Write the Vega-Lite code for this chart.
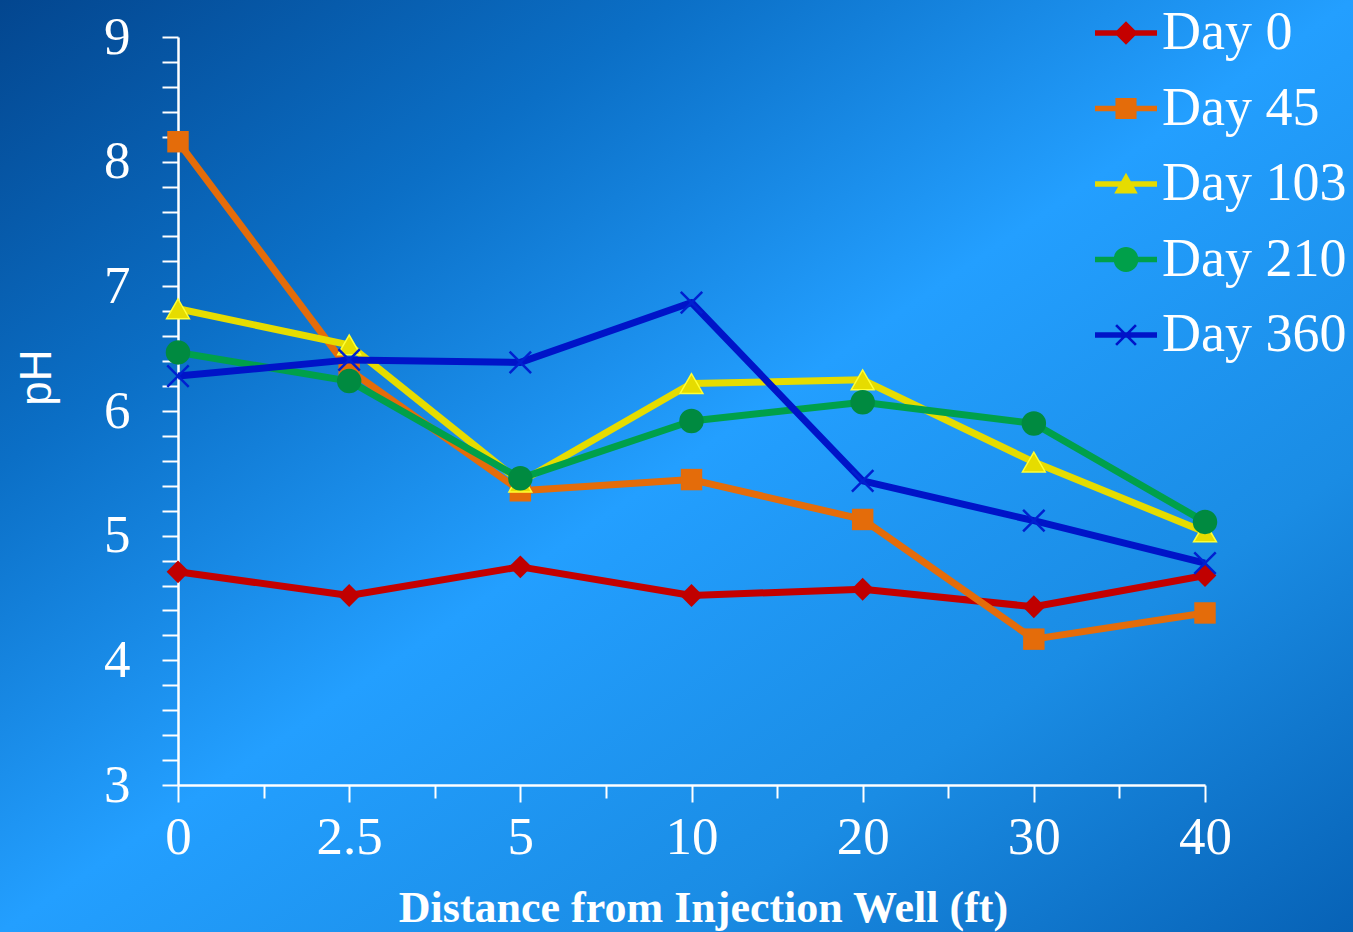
{
  "$schema": "https://vega.github.io/schema/vega-lite/v6.json",
  "width": 1353,
  "height": 932,
  "autosize": {"type": "none"},
  "padding": 0,
  "config": {
    "view": {
      "stroke": null,
      "fill": {
        "gradient": "linear",
        "x1": 0, "y1": 0, "x2": 1, "y2": 1,
        "stops": [
          {"offset": 0, "color": "#03468f"},
          {"offset": 0.25, "color": "#0b6fc6"},
          {"offset": 0.5, "color": "#239fff"},
          {"offset": 0.75, "color": "#1a8ce4"},
          {"offset": 1, "color": "#0762b6"}
        ]
      }
    }
  },
  "data": {
    "values": [
      {"day": "Day 0", "distance": 0, "pH": 4.71},
      {"day": "Day 0", "distance": 2.5, "pH": 4.52},
      {"day": "Day 0", "distance": 5, "pH": 4.75},
      {"day": "Day 0", "distance": 10, "pH": 4.52},
      {"day": "Day 0", "distance": 20, "pH": 4.57},
      {"day": "Day 0", "distance": 30, "pH": 4.43},
      {"day": "Day 0", "distance": 40, "pH": 4.68},
      {"day": "Day 45", "distance": 0, "pH": 8.16},
      {"day": "Day 45", "distance": 2.5, "pH": 6.33},
      {"day": "Day 45", "distance": 5, "pH": 5.36},
      {"day": "Day 45", "distance": 10, "pH": 5.45},
      {"day": "Day 45", "distance": 20, "pH": 5.13},
      {"day": "Day 45", "distance": 30, "pH": 4.17},
      {"day": "Day 45", "distance": 40, "pH": 4.38},
      {"day": "Day 103", "distance": 0, "pH": 6.82},
      {"day": "Day 103", "distance": 2.5, "pH": 6.53},
      {"day": "Day 103", "distance": 5, "pH": 5.43},
      {"day": "Day 103", "distance": 10, "pH": 6.22},
      {"day": "Day 103", "distance": 20, "pH": 6.25},
      {"day": "Day 103", "distance": 30, "pH": 5.59},
      {"day": "Day 103", "distance": 40, "pH": 5.03},
      {"day": "Day 210", "distance": 0, "pH": 6.47},
      {"day": "Day 210", "distance": 2.5, "pH": 6.24},
      {"day": "Day 210", "distance": 5, "pH": 5.46},
      {"day": "Day 210", "distance": 10, "pH": 5.92},
      {"day": "Day 210", "distance": 20, "pH": 6.07},
      {"day": "Day 210", "distance": 30, "pH": 5.9},
      {"day": "Day 210", "distance": 40, "pH": 5.11},
      {"day": "Day 360", "distance": 0, "pH": 6.28},
      {"day": "Day 360", "distance": 2.5, "pH": 6.41},
      {"day": "Day 360", "distance": 5, "pH": 6.39},
      {"day": "Day 360", "distance": 10, "pH": 6.87},
      {"day": "Day 360", "distance": 20, "pH": 5.44},
      {"day": "Day 360", "distance": 30, "pH": 5.12},
      {"day": "Day 360", "distance": 40, "pH": 4.78}
    ]
  },
  "encoding": {
    "y": {
      "field": "pH", "type": "quantitative",
      "scale": {"domain": [3, 9], "range": [785, 37], "nice": false, "zero": false},
      "axis": {
        "orient": "left", "offset": -178, "grid": false,
        "values": [3, 3.2, 3.4, 3.6, 3.8, 4, 4.2, 4.4, 4.6, 4.8, 5, 5.2, 5.4, 5.6, 5.8, 6, 6.2, 6.4, 6.6, 6.8, 7, 7.2, 7.4, 7.6, 7.8, 8, 8.2, 8.4, 8.6, 8.8, 9],
        "labelExpr": "datum.value % 1 === 0 ? datum.value : ''",
        "domainColor": "white", "domainWidth": 2.5,
        "tickColor": "white", "tickWidth": 2, "tickSize": 16,
        "labelFont": "Liberation Serif", "labelFontSize": 53, "labelColor": "white",
        "labelPadding": 32, "labelOverlap": false,
        "title": "pH", "titleFont": "Liberation Sans", "titleFontSize": 44,
        "titleFontWeight": "normal", "titleColor": "white", "titlePadding": 44, "titleY": 377
      }
    }
  },
  "resolve": {"axis": {"x": "independent"}},
  "layer": [
    {
      "transform": [{"filter": "false"}],
      "mark": {"type": "point", "filled": true, "opacity": 1, "size": 3844, "strokeWidth": 0},
      "encoding": {
        "x": {
          "field": "distance", "type": "ordinal",
          "scale": {"type": "point", "domain": [0, 2.5, 5, 10, 20, 30, 40], "range": [178, 1205], "padding": 0},
          "axis": {
            "orient": "bottom", "offset": -147, "values": [0, 2.5, 5, 10, 20, 30],
            "tickOffset": 85.58, "labels": false, "domain": false, "grid": false,
            "ticks": true, "tickSize": 13, "tickWidth": 2, "tickColor": "white", "title": null
          }
        },
        "color": {
          "field": "day", "type": "nominal",
          "scale": {
            "domain": ["Day 0", "Day 45", "Day 103", "Day 210", "Day 360"],
            "range": ["#c40000", "#e46c0a", "#e6dc00", "#00a04a", "#0014c8"]
          },
          "legend": {
            "title": null, "orient": "none", "legendX": 1095, "legendY": 2,
            "labelFont": "Liberation Serif", "labelFontSize": 54, "labelColor": "white",
            "labelLimit": 500, "labelOffset": 5, "rowPadding": 17.5, "symbolSize": 3844,
            "symbolStrokeWidth": 0, "symbolOpacity": 1
          }
        },
        "shape": {
          "field": "day", "type": "nominal",
          "scale": {
            "domain": ["Day 0", "Day 45", "Day 103", "Day 210", "Day 360"],
            "range": [
              "M-1,-0.09L1,-0.09L1,0.09L-1,0.09ZM0,-0.38L0.38,0L0,0.38L-0.38,0Z",
              "M-1,-0.09L1,-0.09L1,0.09L-1,0.09ZM-0.34,-0.34L0.34,-0.34L0.34,0.34L-0.34,0.34Z",
              "M-1,-0.09L1,-0.09L1,0.09L-1,0.09ZM0,-0.36L0.38,0.31L-0.38,0.31Z",
              "M-1,-0.09L1,-0.09L1,0.09L-1,0.09ZM-0.4,0A0.4,0.4,0,1,1,0.4,0A0.4,0.4,0,1,1,-0.4,0Z",
              "M-1,-0.09L1,-0.09L1,0.09L-1,0.09ZM-0.35,-0.29L-0.29,-0.35L0,-0.06L0.29,-0.35L0.35,-0.29L0.06,0L0.35,0.29L0.29,0.35L0,0.06L-0.29,0.35L-0.35,0.29L-0.06,0Z"
            ]
          },
          "legend": {
            "title": null, "orient": "none", "legendX": 1095, "legendY": 2,
            "labelFont": "Liberation Serif", "labelFontSize": 54, "labelColor": "white",
            "labelLimit": 500, "labelOffset": 5, "rowPadding": 17.5, "symbolSize": 3844,
            "symbolStrokeWidth": 0, "symbolOpacity": 1
          }
        }
      }
    },
    {
      "transform": [{"filter": "datum.day === 'Day 0'"}],
      "mark": {
        "type": "line", "color": "#c40000", "strokeWidth": 7, "strokeJoin": "round",
        "point": {"shape": "diamond", "filled": true, "size": 520, "color": "#c00000", "opacity": 1}
      },
      "encoding": {
        "x": {
          "field": "distance", "type": "ordinal",
          "axis": {
            "orient": "bottom", "offset": -147, "grid": false,
            "domainColor": "white", "domainWidth": 2.5,
            "tickColor": "white", "tickWidth": 2, "tickSize": 17,
            "labelAngle": 0, "labelFont": "Liberation Serif", "labelFontSize": 53,
            "labelColor": "white", "labelPadding": 9,
            "title": "Distance from Injection Well (ft)",
            "titleFont": "Liberation Serif", "titleFontSize": 44, "titleFontWeight": "bold",
            "titleColor": "white", "titlePadding": 22, "titleX": 703
          }
        }
      }
    },
    {
      "transform": [{"filter": "datum.day === 'Day 45'"}],
      "mark": {
        "type": "line", "color": "#e46c0a", "strokeWidth": 7, "strokeJoin": "round",
        "point": {"shape": "square", "filled": true, "size": 460, "color": "#e46c0a", "opacity": 1}
      },
      "encoding": {
        "x": {"field": "distance", "type": "ordinal", "axis": null}
      }
    },
    {
      "transform": [{"filter": "datum.day === 'Day 103'"}],
      "mark": {
        "type": "line", "color": "#e6dc00", "strokeWidth": 7, "strokeJoin": "round",
        "point": {"shape": "triangle-up", "filled": true, "size": 520, "fill": "#e6dc00", "stroke": "#ffff33", "strokeWidth": 1.5, "opacity": 1}
      },
      "encoding": {
        "x": {"field": "distance", "type": "ordinal", "axis": null}
      }
    },
    {
      "transform": [{"filter": "datum.day === 'Day 210'"}],
      "mark": {
        "type": "line", "color": "#00a04a", "strokeWidth": 7, "strokeJoin": "round",
        "point": {"shape": "circle", "filled": true, "size": 600, "color": "#008a40", "opacity": 1}
      },
      "encoding": {
        "x": {"field": "distance", "type": "ordinal", "axis": null}
      }
    },
    {
      "transform": [{"filter": "datum.day === 'Day 360'"}],
      "mark": {
        "type": "line", "color": "#0014c8", "strokeWidth": 7, "strokeJoin": "round",
        "point": {"shape": "M-1,-1L1,1M-1,1L1,-1", "filled": false, "size": 460, "stroke": "#0020d0", "strokeWidth": 2.5, "opacity": 1}
      },
      "encoding": {
        "x": {"field": "distance", "type": "ordinal", "axis": null}
      }
    }
  ]
}
